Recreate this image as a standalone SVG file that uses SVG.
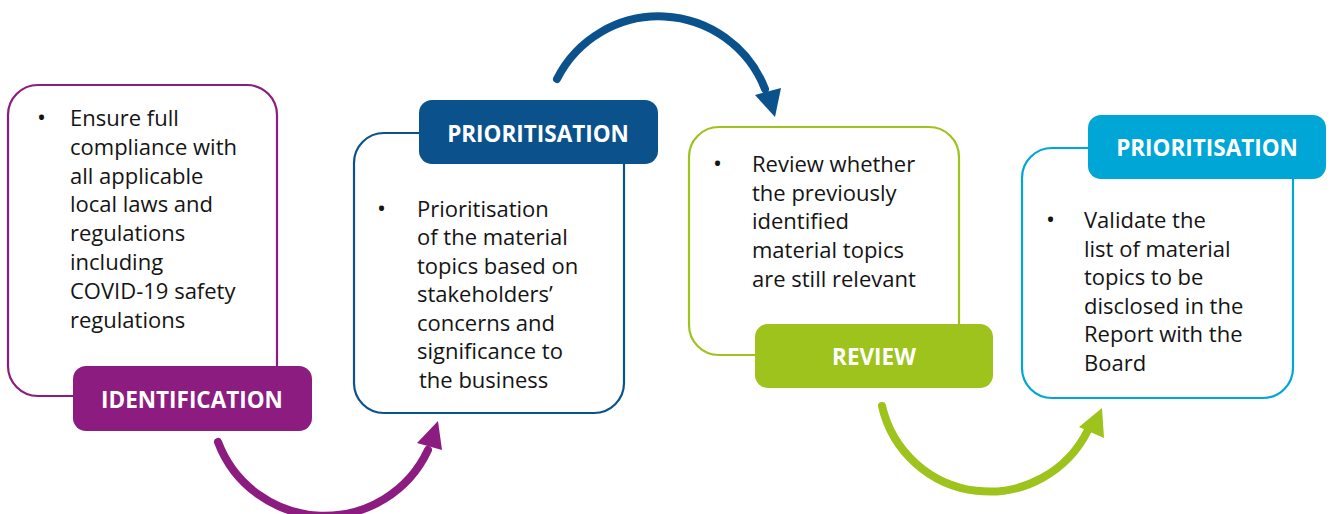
<svg xmlns="http://www.w3.org/2000/svg" width="1331" height="514" viewBox="0 0 1331 514">
<style>
.box{fill:#fff;stroke-width:2.2}
.body{font-family:"Open Sans",Lato,"Liberation Sans",sans-serif;font-size:22px;fill:#141414}
.bul{font-family:"Open Sans",Lato,"Liberation Sans",sans-serif;font-size:24px;fill:#141414}
.lbl{font-family:"Open Sans",Lato,"Liberation Sans",sans-serif;font-size:22.5px;font-weight:bold;fill:#fff;text-anchor:middle}
.arc{fill:none;stroke-width:8;stroke-linecap:round}
</style>
<rect width="1331" height="514" fill="#fff"/>
<g id="connectors">
  <path class="arc" stroke="#8c1c80" d="M 218 442 A 114 114 0 0 0 428 450"/>
  <polygon fill="#8c1c80" points="438,421 442,450 417,443"/>
  <path class="arc" stroke="#0b528d" d="M 557 79 A 114 114 0 0 1 765 89"/>
  <polygon fill="#0b528d" points="775,117 755,95 781,88"/>
  <path class="arc" stroke="#9dc31c" d="M 882 406 A 110 110 0 0 0 1088 430"/>
  <polygon fill="#9dc31c" points="1102,408 1104,438 1079,427"/>
</g>
<g id="identification">
  <rect class="box" x="8" y="85" width="269" height="311" rx="30" stroke="#8c1c80"/>
  <rect x="73" y="366" width="239" height="65" rx="13" fill="#8c1c80"/>
  <text class="lbl" x="192" y="408">IDENTIFICATION</text>
  <text class="bul" x="37" y="126">•</text>
  <text class="body"><tspan x="70" y="126">Ensure full</tspan><tspan x="70" y="155">compliance with</tspan><tspan x="70" y="184">all applicable</tspan><tspan x="70" y="212">local laws and</tspan><tspan x="70" y="241">regulations</tspan><tspan x="70" y="270">including</tspan><tspan x="70" y="299">COVID-19 safety</tspan><tspan x="70" y="328">regulations</tspan></text>
</g>
<g id="prioritisation1">
  <rect class="box" x="354" y="133" width="270" height="280" rx="30" stroke="#0b528d"/>
  <rect x="419" y="100" width="239" height="64" rx="13" fill="#0b528d"/>
  <text class="lbl" x="538" y="142">PRIORITISATION</text>
  <text class="bul" x="377" y="217">•</text>
  <text class="body"><tspan x="417" y="217">Prioritisation</tspan><tspan x="417" y="245">of the material</tspan><tspan x="417" y="274">topics based on</tspan><tspan x="417" y="302">stakeholders’</tspan><tspan x="417" y="331">concerns and</tspan><tspan x="417" y="359">significance to</tspan><tspan x="419" y="388">the business</tspan></text>
</g>
<g id="review">
  <rect class="box" x="689" y="127" width="270" height="228" rx="30" stroke="#9dc31c"/>
  <rect x="755" y="324" width="238" height="64" rx="13" fill="#9dc31c"/>
  <text class="lbl" x="874" y="365">REVIEW</text>
  <text class="bul" x="713" y="172">•</text>
  <text class="body"><tspan x="752" y="172">Review whether</tspan><tspan x="752" y="201">the previously</tspan><tspan x="752" y="229">identified</tspan><tspan x="752" y="258">material topics</tspan><tspan x="752" y="287">are still relevant</tspan></text>
</g>
<g id="prioritisation2">
  <rect class="box" x="1022" y="148" width="271" height="250" rx="30" stroke="#00a6d6"/>
  <rect x="1088" y="115" width="238" height="64" rx="13" fill="#00a6d6"/>
  <text class="lbl" x="1207" y="156">PRIORITISATION</text>
  <text class="bul" x="1046" y="228">•</text>
  <text class="body"><tspan x="1084" y="228">Validate the</tspan><tspan x="1084" y="257">list of material</tspan><tspan x="1084" y="285">topics to be</tspan><tspan x="1084" y="314">disclosed in the</tspan><tspan x="1084" y="342">Report with the</tspan><tspan x="1084" y="371">Board</tspan></text>
</g>
</svg>
